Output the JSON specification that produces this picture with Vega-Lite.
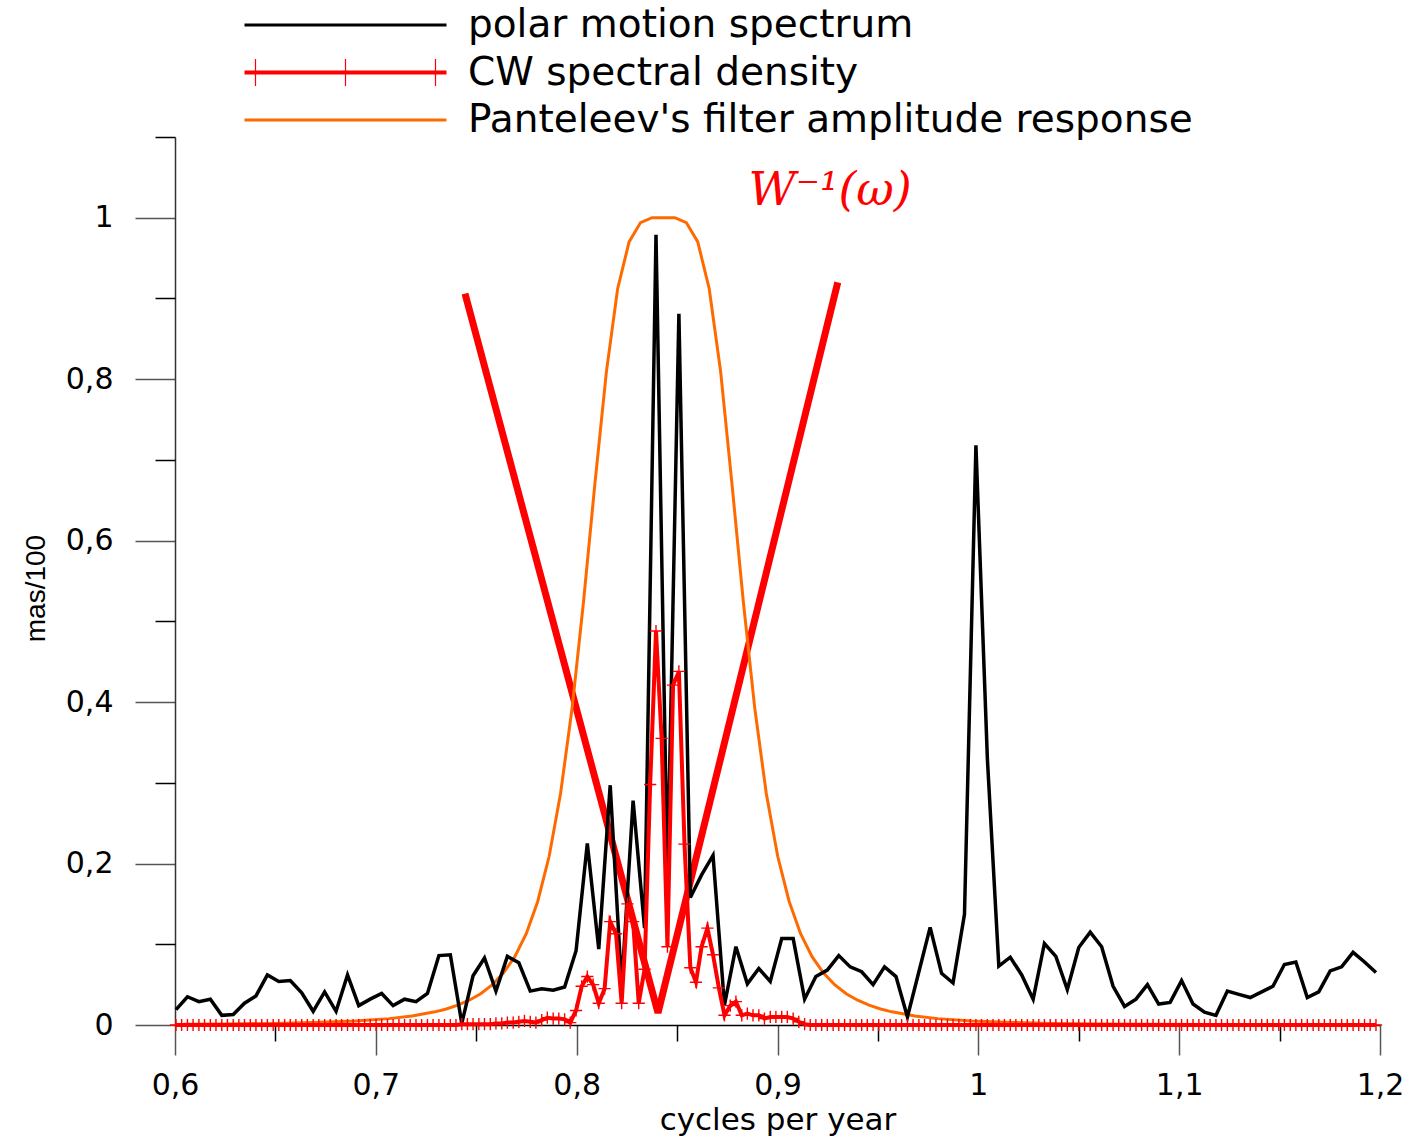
{
"$schema": "https://vega.github.io/schema/vega-lite/v6.json",
"width": 1205, "height": 888,
"autosize": {"type": "none"},
"padding": {"left": 175, "top": 137, "right": 38, "bottom": 112},
"background": "white",
"config": {"view": {"stroke": null}, "font": "DejaVu Sans", "axis": {"grid": false}},
"datasets": {
"w": [{"f":0.7444,"v":0.906},{"f":0.8405,"v":0.015},{"f":0.9300,"v":0.920}],
"lab": [{"f":0.9262,"v":1.033,"t":"W⁻¹(ω)"}],
"pf": [
{"f":0.6042,"v":0.0009},{"f":0.6270,"v":0.0013},{"f":0.6497,"v":0.0020},{"f":0.6725,"v":0.0033},{"f":0.6896,"v":0.0050},{"f":0.7066,"v":0.0079},{"f":0.7180,"v":0.0112},{"f":0.7294,"v":0.0163},{"f":0.7351,"v":0.0199},{"f":0.7408,"v":0.0246},{"f":0.7465,"v":0.0307},{"f":0.7522,"v":0.0388},{"f":0.7579,"v":0.0496},{"f":0.7635,"v":0.0643},{"f":0.7692,"v":0.0847},{"f":0.7749,"v":0.113},{"f":0.7806,"v":0.153},{"f":0.7863,"v":0.209},{"f":0.7920,"v":0.287},{"f":0.7977,"v":0.392},{"f":0.8034,"v":0.524},{"f":0.8091,"v":0.671},{"f":0.8148,"v":0.809},{"f":0.8204,"v":0.912},{"f":0.8261,"v":0.970},{"f":0.8318,"v":0.994},{"f":0.8375,"v":1.0},{"f":0.8432,"v":1.0},{"f":0.8489,"v":1.0},{"f":0.8546,"v":0.994},{"f":0.8603,"v":0.970},{"f":0.8660,"v":0.912},{"f":0.8717,"v":0.809},{"f":0.8773,"v":0.671},{"f":0.8830,"v":0.524},{"f":0.8887,"v":0.392},{"f":0.8944,"v":0.287},{"f":0.9001,"v":0.209},{"f":0.9058,"v":0.153},{"f":0.9115,"v":0.113},{"f":0.9172,"v":0.0847},{"f":0.9229,"v":0.0643},{"f":0.9286,"v":0.0496},{"f":0.9342,"v":0.0388},{"f":0.9399,"v":0.0307},{"f":0.9456,"v":0.0246},{"f":0.9513,"v":0.0199},{"f":0.9570,"v":0.0163},{"f":0.9684,"v":0.0112},{"f":0.9798,"v":0.0079},{"f":0.9968,"v":0.0050},{"f":1.0139,"v":0.0033},{"f":1.0367,"v":0.0020},{"f":1.0594,"v":0.0013},{"f":1.0822,"v":0.0009},{"f":1.1163,"v":0.0005},{"f":1.1562,"v":0.0003},{"f":1.1960,"v":0.0002}
],
"pm": [
{"f":0.6005,"v":0.019},{"f":0.6062,"v":0.035},{"f":0.6119,"v":0.029},{"f":0.6176,"v":0.032},{"f":0.6233,"v":0.012},{"f":0.6290,"v":0.013},{"f":0.6346,"v":0.027},{"f":0.6403,"v":0.036},{"f":0.6460,"v":0.062},{"f":0.6517,"v":0.054},{"f":0.6574,"v":0.055},{"f":0.6631,"v":0.040},{"f":0.6688,"v":0.017},{"f":0.6745,"v":0.041},{"f":0.6802,"v":0.017},{"f":0.6859,"v":0.062},{"f":0.6915,"v":0.024},{"f":0.6972,"v":0.032},{"f":0.7029,"v":0.039},{"f":0.7086,"v":0.024},{"f":0.7143,"v":0.032},{"f":0.7200,"v":0.029},{"f":0.7257,"v":0.039},{"f":0.7314,"v":0.086},{"f":0.7371,"v":0.087},{"f":0.7428,"v":0.002},{"f":0.7484,"v":0.061},{"f":0.7541,"v":0.083},{"f":0.7598,"v":0.042},{"f":0.7655,"v":0.085},{"f":0.7712,"v":0.077},{"f":0.7769,"v":0.042},{"f":0.7826,"v":0.045},{"f":0.7883,"v":0.043},{"f":0.7940,"v":0.047},{"f":0.7997,"v":0.092},{"f":0.8053,"v":0.225},{"f":0.8110,"v":0.094},{"f":0.8167,"v":0.297},{"f":0.8224,"v":0.048},{"f":0.8281,"v":0.278},{"f":0.8338,"v":0.120},{"f":0.8395,"v":0.979},{"f":0.8452,"v":0.182},{"f":0.8509,"v":0.881},{"f":0.8566,"v":0.158},{"f":0.8622,"v":0.186},{"f":0.8679,"v":0.210},{"f":0.8736,"v":0.025},{"f":0.8793,"v":0.097},{"f":0.8850,"v":0.051},{"f":0.8907,"v":0.070},{"f":0.8964,"v":0.054},{"f":0.9021,"v":0.107},{"f":0.9078,"v":0.107},{"f":0.9135,"v":0.032},{"f":0.9191,"v":0.060},{"f":0.9248,"v":0.068},{"f":0.9305,"v":0.086},{"f":0.9362,"v":0.072},{"f":0.9419,"v":0.066},{"f":0.9476,"v":0.050},{"f":0.9533,"v":0.072},{"f":0.9590,"v":0.060},{"f":0.9647,"v":0.010},{"f":0.9704,"v":0.066},{"f":0.9760,"v":0.121},{"f":0.9817,"v":0.064},{"f":0.9874,"v":0.052},{"f":0.9931,"v":0.137},{"f":0.9988,"v":0.718},{"f":1.0045,"v":0.330},{"f":1.0102,"v":0.073},{"f":1.0159,"v":0.084},{"f":1.0216,"v":0.062},{"f":1.0273,"v":0.032},{"f":1.0329,"v":0.101},{"f":1.0386,"v":0.085},{"f":1.0443,"v":0.044},{"f":1.0500,"v":0.096},{"f":1.0557,"v":0.115},{"f":1.0614,"v":0.097},{"f":1.0671,"v":0.048},{"f":1.0728,"v":0.023},{"f":1.0785,"v":0.032},{"f":1.0842,"v":0.050},{"f":1.0898,"v":0.026},{"f":1.0955,"v":0.028},{"f":1.1012,"v":0.055},{"f":1.1069,"v":0.026},{"f":1.1126,"v":0.016},{"f":1.1183,"v":0.012},{"f":1.1240,"v":0.042},{"f":1.1297,"v":0.038},{"f":1.1354,"v":0.034},{"f":1.1411,"v":0.041},{"f":1.1467,"v":0.048},{"f":1.1524,"v":0.075},{"f":1.1581,"v":0.078},{"f":1.1638,"v":0.034},{"f":1.1695,"v":0.041},{"f":1.1752,"v":0.067},{"f":1.1809,"v":0.072},{"f":1.1866,"v":0.090},{"f":1.1923,"v":0.078},{"f":1.1980,"v":0.065}
],
"cw": [
{"f":0.6005,"v":0},{"f":0.6033,"v":0},{"f":0.6062,"v":0},{"f":0.6090,"v":0},{"f":0.6119,"v":0},{"f":0.6147,"v":0},{"f":0.6176,"v":0},{"f":0.6204,"v":0},{"f":0.6233,"v":0},{"f":0.6261,"v":0},
{"f":0.6290,"v":0},{"f":0.6318,"v":0},{"f":0.6346,"v":0},{"f":0.6375,"v":0},{"f":0.6403,"v":0},{"f":0.6432,"v":0},{"f":0.6460,"v":0},{"f":0.6489,"v":0},{"f":0.6517,"v":0},{"f":0.6546,"v":0},
{"f":0.6574,"v":0},{"f":0.6602,"v":0},{"f":0.6631,"v":0},{"f":0.6659,"v":0},{"f":0.6688,"v":0},{"f":0.6716,"v":0},{"f":0.6745,"v":0},{"f":0.6773,"v":0},{"f":0.6802,"v":0},{"f":0.6830,"v":0},
{"f":0.6859,"v":0},{"f":0.6887,"v":0},{"f":0.6915,"v":0},{"f":0.6944,"v":0},{"f":0.6972,"v":0},{"f":0.7001,"v":0},{"f":0.7029,"v":0},{"f":0.7058,"v":0},{"f":0.7086,"v":0},{"f":0.7115,"v":0},
{"f":0.7143,"v":0},{"f":0.7171,"v":0},{"f":0.7200,"v":0},{"f":0.7228,"v":0},{"f":0.7257,"v":0},{"f":0.7285,"v":0},{"f":0.7314,"v":0},{"f":0.7342,"v":0},{"f":0.7371,"v":0},{"f":0.7399,"v":0},
{"f":0.7428,"v":0.001},{"f":0.7456,"v":0.001},{"f":0.7484,"v":0.001},{"f":0.7513,"v":0.001},{"f":0.7541,"v":0.001},{"f":0.7570,"v":0.001},{"f":0.7598,"v":0.002},{"f":0.7627,"v":0.002},{"f":0.7655,"v":0.003},{"f":0.7684,"v":0.003},
{"f":0.7712,"v":0.004},{"f":0.7740,"v":0.005},{"f":0.7769,"v":0.004},{"f":0.7797,"v":0.003},{"f":0.7826,"v":0.006},{"f":0.7854,"v":0.009},{"f":0.7883,"v":0.008},{"f":0.7911,"v":0.008},{"f":0.7940,"v":0.007},{"f":0.7968,"v":0.003},
{"f":0.7997,"v":0.018},{"f":0.8025,"v":0.048},{"f":0.8053,"v":0.060},{"f":0.8082,"v":0.050},{"f":0.8110,"v":0.027},{"f":0.8139,"v":0.045},{"f":0.8167,"v":0.128},{"f":0.8196,"v":0.113},{"f":0.8224,"v":0.027},{"f":0.8253,"v":0.150},
{"f":0.8281,"v":0.128},{"f":0.8309,"v":0.027},{"f":0.8338,"v":0.069},{"f":0.8366,"v":0.298},{"f":0.8395,"v":0.488},{"f":0.8423,"v":0.355},{"f":0.8452,"v":0.097},{"f":0.8480,"v":0.421},{"f":0.8509,"v":0.438},{"f":0.8537,"v":0.224},
{"f":0.8566,"v":0.071},{"f":0.8594,"v":0.053},{"f":0.8622,"v":0.097},{"f":0.8651,"v":0.120},{"f":0.8679,"v":0.087},{"f":0.8708,"v":0.046},{"f":0.8736,"v":0.012},{"f":0.8765,"v":0.024},{"f":0.8793,"v":0.029},{"f":0.8822,"v":0.012},
{"f":0.8850,"v":0.014},{"f":0.8878,"v":0.012},{"f":0.8907,"v":0.012},{"f":0.8935,"v":0.008},{"f":0.8964,"v":0.010},{"f":0.8992,"v":0.010},{"f":0.9021,"v":0.010},{"f":0.9049,"v":0.010},{"f":0.9078,"v":0.008},{"f":0.9106,"v":0.004},
{"f":0.9135,"v":0.001},{"f":0.9163,"v":0},{"f":0.9191,"v":0},{"f":0.9220,"v":0},{"f":0.9248,"v":0},{"f":0.9277,"v":0},{"f":0.9305,"v":0},{"f":0.9334,"v":0},{"f":0.9362,"v":0},{"f":0.9391,"v":0},
{"f":0.9419,"v":0},{"f":0.9447,"v":0},{"f":0.9476,"v":0},{"f":0.9504,"v":0},{"f":0.9533,"v":0},{"f":0.9561,"v":0},{"f":0.9590,"v":0},{"f":0.9618,"v":0},{"f":0.9647,"v":0},{"f":0.9675,"v":0},
{"f":0.9704,"v":0},{"f":0.9732,"v":0},{"f":0.9760,"v":0},{"f":0.9789,"v":0},{"f":0.9817,"v":0},{"f":0.9846,"v":0},{"f":0.9874,"v":0},{"f":0.9903,"v":0},{"f":0.9931,"v":0},{"f":0.9960,"v":0},
{"f":0.9988,"v":0},{"f":1.0016,"v":0},{"f":1.0045,"v":0},{"f":1.0073,"v":0},{"f":1.0102,"v":0},{"f":1.0130,"v":0},{"f":1.0159,"v":0},{"f":1.0187,"v":0},{"f":1.0216,"v":0},{"f":1.0244,"v":0},
{"f":1.0273,"v":0},{"f":1.0301,"v":0},{"f":1.0329,"v":0},{"f":1.0358,"v":0},{"f":1.0386,"v":0},{"f":1.0415,"v":0},{"f":1.0443,"v":0},{"f":1.0472,"v":0},{"f":1.0500,"v":0},{"f":1.0529,"v":0},
{"f":1.0557,"v":0},{"f":1.0585,"v":0},{"f":1.0614,"v":0},{"f":1.0642,"v":0},{"f":1.0671,"v":0},{"f":1.0699,"v":0},{"f":1.0728,"v":0},{"f":1.0756,"v":0},{"f":1.0785,"v":0},{"f":1.0813,"v":0},
{"f":1.0842,"v":0},{"f":1.0870,"v":0},{"f":1.0898,"v":0},{"f":1.0927,"v":0},{"f":1.0955,"v":0},{"f":1.0984,"v":0},{"f":1.1012,"v":0},{"f":1.1041,"v":0},{"f":1.1069,"v":0},{"f":1.1098,"v":0},
{"f":1.1126,"v":0},{"f":1.1154,"v":0},{"f":1.1183,"v":0},{"f":1.1211,"v":0},{"f":1.1240,"v":0},{"f":1.1268,"v":0},{"f":1.1297,"v":0},{"f":1.1325,"v":0},{"f":1.1354,"v":0},{"f":1.1382,"v":0},
{"f":1.1411,"v":0},{"f":1.1439,"v":0},{"f":1.1467,"v":0},{"f":1.1496,"v":0},{"f":1.1524,"v":0},{"f":1.1553,"v":0},{"f":1.1581,"v":0},{"f":1.1610,"v":0},{"f":1.1638,"v":0},{"f":1.1667,"v":0},
{"f":1.1695,"v":0},{"f":1.1723,"v":0},{"f":1.1752,"v":0},{"f":1.1780,"v":0},{"f":1.1809,"v":0},{"f":1.1837,"v":0},{"f":1.1866,"v":0},{"f":1.1894,"v":0},{"f":1.1923,"v":0},{"f":1.1951,"v":0},
{"f":1.1980,"v":0}
]
},
"layer": [
{
"data": {"name": "w"},
"mark": {"type": "line", "color": "#ff0000", "strokeWidth": 7},
"encoding": {
"x": {"field": "f", "type": "quantitative", "scale": {"domain": [0.6, 1.2], "nice": false, "zero": false},
"axis": {"orient": "bottom", "values": [0.6, 0.7, 0.8, 0.9, 1, 1.1, 1.2], "tickSize": 30, "tickColor": "#555555", "tickWidth": 1.5, "domain": true, "domainColor": "#000000", "domainWidth": 1.5, "labelExpr": "datum.value == 0 ? '0' : datum.value == 1 ? '1' : replace(format(datum.value, '.1f'), '.', ',')", "labelFont": "DejaVu Sans", "labelFontSize": 30, "labelColor": "#000000", "labelPadding": 15, "labelFlush": false, "labelOverlap": false, "title": "cycles per year", "titleFont": "DejaVu Sans", "titleFontSize": 31, "titleFontWeight": "normal", "titleColor": "#000000", "titleY": 104, "titleBaseline": "alphabetic"}},
"y": {"field": "v", "type": "quantitative", "scale": {"domain": [0, 1.1], "nice": false},
"axis": {"orient": "left", "values": [0, 0.2, 0.4, 0.6, 0.8, 1], "tickSize": 40, "tickColor": "#555555", "tickWidth": 1.5, "domain": true, "domainColor": "#333333", "domainWidth": 1.5, "labelExpr": "datum.value == 0 ? '0' : datum.value == 1 ? '1' : replace(format(datum.value, '.1f'), '.', ',')", "labelFont": "DejaVu Sans", "labelFontSize": 30, "labelColor": "#000000", "labelPadding": 22, "labelOverlap": false, "title": "mas/100", "titleFont": "Liberation Sans Narrow, Liberation Sans", "titleFontSize": 28, "titleFontWeight": "normal", "titleColor": "#000000", "titleX": -131, "titleY": 451, "titleBaseline": "alphabetic", "titleAngle": 270}}
}
},
{
"data": {"name": "pf"},
"mark": {"type": "line", "strokeWidth": 3},
"encoding": {
"x": {"field": "f", "type": "quantitative", "scale": {"domain": [0.6, 1.2], "nice": false, "zero": false},
"axis": {"orient": "bottom", "values": [0.65, 0.75, 0.85, 0.95, 1.05, 1.15], "tickSize": 16, "tickColor": "#000000", "tickWidth": 1.5, "labels": false, "domain": false, "title": null}},
"y": {"field": "v", "type": "quantitative", "scale": {"domain": [0, 1.1], "nice": false},
"axis": {"orient": "left", "values": [0.1, 0.3, 0.5, 0.7, 0.9, 1.1], "tickSize": 20, "tickColor": "#000000", "tickWidth": 1.5, "labels": false, "domain": false, "title": null}},
"color": {"datum": "Panteleev's filter amplitude response", "type": "nominal", "scale": {"domain": ["polar motion spectrum", "CW spectral density", "Panteleev's filter amplitude response"], "range": ["#000000", "#ff0000", "#ff6a00"]}}
}
},
{
"data": {"name": "pm"},
"mark": {"type": "line", "strokeWidth": 3.5},
"encoding": {
"x": {"field": "f", "type": "quantitative", "scale": {"domain": [0.6, 1.2], "nice": false, "zero": false}, "axis": null},
"y": {"field": "v", "type": "quantitative", "scale": {"domain": [0, 1.1], "nice": false}, "axis": null},
"color": {"datum": "polar motion spectrum", "type": "nominal", "scale": {"domain": ["polar motion spectrum", "CW spectral density", "Panteleev's filter amplitude response"], "range": ["#000000", "#ff0000", "#ff6a00"]},
"legend": {"orient": "none", "legendX": 151, "legendY": -131.5, "title": null, "direction": "vertical", "symbolSize": 400, "labelFont": "DejaVu Sans", "labelFontSize": 39, "labelColor": "#000000", "labelOffset": 103, "rowPadding": 7.5, "padding": 0, "labelLimit": 1200,
"encode": {"symbols": {"update": {
"shape": {"signal": "datum.value === 'CW spectral density' ? 'M-10.1,-0.2H10.1V0.2H-10.1ZM-9.06,-1.35H-8.94V1.35H-9.06ZM-0.06,-1.35H0.06V1.35H-0.06ZM8.94,-1.35H9.06V1.35H8.94Z' : 'M-10.1,-0.16H10.1V0.16H-10.1Z'"},
"fill": {"signal": "datum.value === 'CW spectral density' ? '#ff0000' : datum.value === 'polar motion spectrum' ? '#000000' : '#ff6a00'"},
"stroke": {"value": "transparent"},
"strokeWidth": {"value": 0},
"opacity": {"value": 1},
"fillOpacity": {"value": 1}
}}}}}
}
},
{
"data": {"name": "cw"},
"mark": {"type": "line", "strokeWidth": 4},
"encoding": {
"x": {"field": "f", "type": "quantitative", "scale": {"domain": [0.6, 1.2], "nice": false, "zero": false}, "axis": null},
"y": {"field": "v", "type": "quantitative", "scale": {"domain": [0, 1.1], "nice": false}, "axis": null},
"color": {"datum": "CW spectral density", "type": "nominal", "scale": {"domain": ["polar motion spectrum", "CW spectral density", "Panteleev's filter amplitude response"], "range": ["#000000", "#ff0000", "#ff6a00"]}}
}
},
{
"data": {"name": "cw"},
"mark": {"type": "point", "shape": "M-1,0H1M0,-1V1", "size": 150, "filled": false, "color": "#ff0000", "strokeWidth": 1.4, "opacity": 1},
"encoding": {
"x": {"field": "f", "type": "quantitative", "scale": {"domain": [0.6, 1.2], "nice": false, "zero": false}, "axis": null},
"y": {"field": "v", "type": "quantitative", "scale": {"domain": [0, 1.1], "nice": false}, "axis": null}
}
},
{
"data": {"name": "lab"},
"mark": {"type": "text", "font": "DejaVu Serif", "fontStyle": "italic", "fontSize": 46, "color": "#ff0000", "align": "center", "baseline": "middle"},
"encoding": {
"x": {"field": "f", "type": "quantitative", "scale": {"domain": [0.6, 1.2], "nice": false, "zero": false}, "axis": null},
"y": {"field": "v", "type": "quantitative", "scale": {"domain": [0, 1.1], "nice": false}, "axis": null},
"text": {"field": "t"}
}
}
],
"resolve": {"axis": {"x": "independent", "y": "independent"}}
}
